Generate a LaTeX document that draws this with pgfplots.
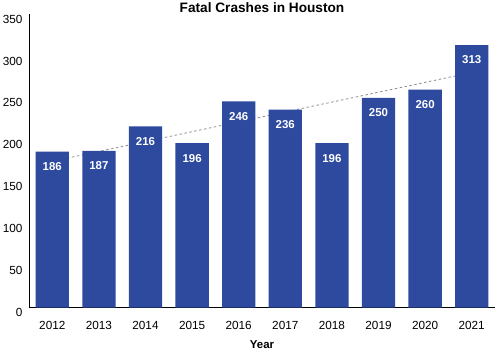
\documentclass[border=0pt]{standalone}
\usepackage{pgfplots}
\pgfplotsset{compat=1.18}
\usepackage{fontspec}
\setmainfont{Liberation Sans}
\definecolor{barblue}{RGB}{46,74,158}
\begin{document}
\begin{tikzpicture}[x=1bp,y=1bp]
\useasboundingbox (0,0) rectangle (498,352);
\begin{axis}[
  at={(29bp,44.3bp)}, anchor=south west,
  scale only axis, width=466bp, height=293.7bp,
  xmin=-0.5, xmax=9.5, ymin=0, ymax=350,
  axis lines=left, axis line style={-, black, line width=1bp},
  major tick length=0pt,
  xtick={0,...,9},
  xticklabels={2012,2013,2014,2015,2016,2017,2018,2019,2020,2021},
  ytick={0,50,...,350},
  tick label style={font=\fontsize{11.8}{13}\selectfont},
  /pgf/number format/assume math mode=true,
  xticklabel style={anchor=center, yshift=-18bp},
  yticklabel style={anchor=east, xshift=-3bp, yshift=-5bp},
  xlabel={Year},
  xlabel style={at={(axis description cs:0.5,0)}, anchor=center, yshift=-37bp, font=\bfseries\fontsize{11.5}{13}\selectfont},
  every axis title shift=0pt,
  title={Fatal Crashes in Houston},
  title style={at={(axis description cs:0.5,1)}, anchor=center, yshift=6.5bp, font=\bfseries\fontsize{13.7}{15}\selectfont},
  clip=false,
]
\addplot[color=gray!90, dash pattern=on 2.5bp off 2.5bp, line width=0.8bp] coordinates {(0,174.5) (9,280.3)};
\addplot[ybar, bar width=33.3bp, bar shift=0pt, fill=barblue, draw=none,
  nodes near coords,
  every node near coord/.append style={anchor=center, yshift=-15bp, text=white, font=\bfseries\fontsize{11.5}{12}\selectfont},
] coordinates {
(0,186) (1,187) (2,216) (3,196) (4,246) (5,236) (6,196) (7,250) (8,260) (9,313)
};
\end{axis}
\end{tikzpicture}
\end{document}
